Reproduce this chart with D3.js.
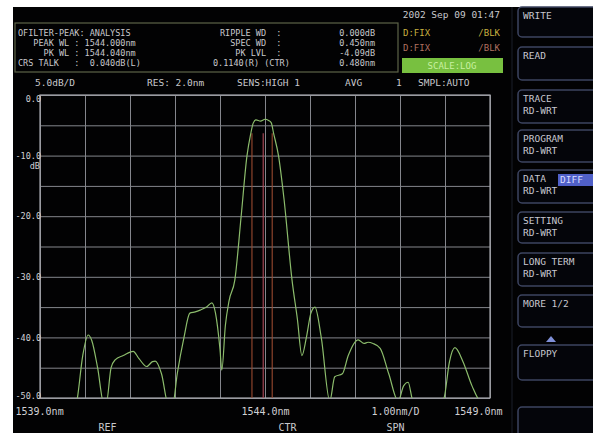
<!DOCTYPE html>
<html><head><meta charset="utf-8">
<script src="https://cdn.jsdelivr.net/npm/d3@7"></script>
<style>
html,body{margin:0;padding:0;background:#fff;}
svg{display:block;}
text{font-family:"DejaVu Sans Mono",monospace;white-space:pre;}
</style></head>
<body>
<svg id="c" width="593" height="433"></svg>
<script>
// ---- data ----
const wavelengths = [1539.70,1539.82,1539.95,1540.07,1540.15,1540.28,1540.42,1540.47,1540.58,1540.67,1540.85,1541.07,1541.20,1541.37,1541.50,1541.56,1541.70,1541.85,1541.95,1542.05,1542.20,1542.33,1542.45,1542.56,1542.70,1542.82,1542.90,1543.00,1543.04,1543.12,1543.20,1543.33,1543.47,1543.60,1543.68,1543.74,1543.80,1543.90,1544.00,1544.08,1544.14,1544.19,1544.30,1544.42,1544.60,1544.72,1544.82,1544.92,1545.02,1545.11,1545.25,1545.44,1545.55,1545.72,1545.85,1546.07,1546.20,1546.29,1546.40,1546.56,1546.75,1546.96,1547.08,1547.18,1547.29,1547.50,1547.90,1547.98,1548.10,1548.22,1548.40,1548.60,1548.78,1549.00];
const levels      = [-53,-50.5,-43,-39.6,-40.5,-45,-51,-51,-45,-43.7,-43,-42.3,-43.5,-44.8,-44,-43.9,-46,-51,-51,-46,-40,-36,-35.8,-35.5,-35,-34.3,-36,-42,-45.4,-38,-34,-30.5,-20,-10,-6.5,-4.6,-4.1,-4.3,-4.0,-4.2,-4.6,-6.3,-10,-17,-30.5,-37,-43,-40,-36,-35,-40,-50.5,-46.5,-46,-43,-40.4,-41,-40.8,-41,-41.8,-46,-50.5,-48,-47.4,-50.5,-51,-51,-50,-44,-41.7,-44,-48,-50.5,-51];
const markerLines = [1543.71, 1543.96, 1544.16];
const yTicks = [0,-10,-20,-30,-40,-50];
const yTickLabels = ["0.0","-10.0","-20.0","-30.0","-40.0","-50.0"];
const xTicks = [1539,1544,1549];
const xTickLabels = ["1539.0nm","1544.0nm","1549.0nm"];
const headerLeft = [
  ["OFILTER-PEAK: ANALYSIS","RIPPLE WD  :","0.000dB"],
  ["   PEAK WL : 1544.000nm","  SPEC WD  :","0.450nm"],
  ["     PK WL : 1544.040nm","   PK LVL  :","-4.09dB"],
  ["CRS TALK   :  0.040dB(L)","0.1140(R) (CTR)","0.480nm"]
];
const buttons = [
  {y0:7,  y1:37,  l1:"WRITE", l2:""},
  {y0:47, y1:80,  l1:"READ",  l2:""},
  {y0:90, y1:123, l1:"TRACE", l2:"RD-WRT"},
  {y0:130,y1:162, l1:"PROGRAM", l2:"RD-WRT"},
  {y0:170,y1:203, l1:"DATA", l2:"RD-WRT"},
  {y0:212,y1:243, l1:"SETTING", l2:"RD-WRT"},
  {y0:253,y1:286, l1:"LONG TERM", l2:"RD-WRT"},
  {y0:295,y1:327, l1:"MORE 1/2", l2:""},
  {y0:345,y1:380, l1:"FLOPPY", l2:""},
  {y0:407,y1:445, l1:"", l2:""}
];

// ---- layout ----
const svg = d3.select("#c");
svg.append("rect").attr("x",13).attr("y",7).attr("width",580).attr("height",426).attr("fill","#020203");

const L=40,R=490,T=95,B=398;
const x = d3.scaleLinear().domain([1539,1549]).range([L,R]);
const y = d3.scaleLinear().domain([-50,0]).range([B,T]);

const gridCol="#84868c";
const gx = svg.append("g").attr("transform",`translate(0,${B})`)
  .call(d3.axisBottom(x).tickValues(d3.range(1539,1550,1)).tickSize(-(B-T)).tickFormat(""));
gx.select(".domain").remove();
gx.selectAll("line").attr("stroke",gridCol).attr("stroke-width",1);
const gy = svg.append("g").attr("transform",`translate(${L},0)`)
  .call(d3.axisLeft(y).tickValues(d3.range(-50,1,5)).tickSize(-(R-L)).tickFormat(""));
gy.select(".domain").remove();
gy.selectAll("line").attr("stroke",gridCol).attr("stroke-width",1);
svg.append("rect").attr("x",L).attr("y",T).attr("width",R-L).attr("height",B-T)
  .attr("fill","none").attr("stroke","#a8aab0").attr("stroke-width",1.2);

// marker lines
svg.append("g").selectAll("line").data(markerLines).join("line")
  .attr("x1",d=>x(d)).attr("x2",d=>x(d)).attr("y1",y(-6.3)).attr("y2",B)
  .attr("stroke",(d,i)=>i===1?"#b04a5a":"#9a4a30").attr("stroke-width",1.1);

// trace
svg.append("clipPath").attr("id","clp").append("rect").attr("x",L).attr("y",T-2).attr("width",R-L).attr("height",B-T+2);
const line = d3.line().x((d,i)=>x(wavelengths[i])).y(d=>y(d)).curve(d3.curveMonotoneX);
svg.append("path").attr("d",line(levels)).attr("clip-path","url(#clp)")
  .attr("fill","none").attr("stroke","#8cbc6c").attr("stroke-width",1.2);

// y labels
const yl = svg.append("g").attr("transform",`translate(${L+1},0)`)
  .call(d3.axisLeft(y).tickValues(yTicks).tickSize(0).tickPadding(0)
    .tickFormat((d,i)=>yTickLabels[i]));
yl.select(".domain").remove();
yl.selectAll("text").attr("fill","#d0d0d4").attr("font-size","8.5px")
  .attr("font-family","DejaVu Sans Mono")
  .attr("dy",(d)=>d===0?"0.75em":(d===-50?"0.1em":"0.32em"));
svg.append("text").attr("x",L).attr("y",y(-10)+13).attr("text-anchor","end")
  .attr("fill","#d0d0d4").attr("font-size","8.5px").text("dB");

// x labels
const xl = svg.append("g").attr("transform",`translate(0,${B})`)
  .call(d3.axisBottom(x).tickValues(xTicks).tickSize(0).tickPadding(10)
    .tickFormat((d,i)=>xTickLabels[i]));
xl.select(".domain").remove();
xl.selectAll("text").attr("fill","#d0d0d4").attr("font-size","10px")
  .attr("font-family","DejaVu Sans Mono")
  .attr("text-anchor",(d,i)=>i===0?"start":(i===2?"end":"middle"))
  .attr("dx",(d,i)=>i===0?"-25px":(i===2?"12px":"0"));
svg.append("text").attr("x",x(1546.9)).attr("y",B+17).attr("text-anchor","middle")
  .attr("fill","#d0d0d4").attr("font-size","10px").text("1.00nm/D");
[["REF",x(1540.5)],["CTR",x(1544.5)],["SPN",x(1546.9)]].forEach(([t,px])=>{
  svg.append("text").attr("x",px).attr("y",B+33).attr("text-anchor","middle")
    .attr("fill","#c8c8cc").attr("font-size","10px").text(t);
});

// header
const hc="#c8c8cc";
svg.append("rect").attr("x",15).attr("y",23).attr("width",383).attr("height",49)
  .attr("fill","none").attr("stroke","#5e6448").attr("stroke-width",1.2);
headerLeft.forEach((row,i)=>{
  const yy=36+i*10;
  svg.append("text").attr("x",18).attr("y",yy).attr("fill",hc).attr("font-size","8.5px").text(row[0]);
  svg.append("text").attr("x",i===3?213:220).attr("y",yy).attr("fill",hc).attr("font-size","8.5px").text(row[1]);
  svg.append("text").attr("x",375).attr("y",yy).attr("text-anchor","end").attr("fill",hc).attr("font-size","8.5px").text(row[2]);
});
svg.append("text").attr("x",500).attr("y",18).attr("text-anchor","end").attr("fill",hc).attr("font-size","9.5px").text("2002 Sep 09 01:47");
svg.append("text").attr("x",403).attr("y",36).attr("fill","#c8b040").attr("font-size","9px").text("D:FIX");
svg.append("text").attr("x",500).attr("y",36).attr("text-anchor","end").attr("fill","#c8b040").attr("font-size","9px").text("/BLK");
svg.append("text").attr("x",403).attr("y",51).attr("fill","#b07060").attr("font-size","9px").text("D:FIX");
svg.append("text").attr("x",500).attr("y",51).attr("text-anchor","end").attr("fill","#b07060").attr("font-size","9px").text("/BLK");
svg.append("rect").attr("x",402).attr("y",58).attr("width",101).attr("height",15).attr("fill","#78c040");
svg.append("text").attr("x",452).attr("y",69).attr("text-anchor","middle").attr("fill","#c8f0a0").attr("font-size","9px").text("SCALE:LOG");

// status row
[["5.0dB/D",35],["RES: 2.0nm",147],["SENS:HIGH 1",237],["AVG",345],["1",396],["SMPL:AUTO",418]].forEach(([t,px])=>{
  svg.append("text").attr("x",px).attr("y",86).attr("fill",hc).attr("font-size","9.5px").text(t);
});

// right panel
svg.append("line").attr("x1",512).attr("x2",512).attr("y1",7).attr("y2",433).attr("stroke","#1a1e2a");
buttons.forEach(b=>{
  svg.append("rect").attr("x",518).attr("y",b.y0).attr("width",90).attr("height",b.y1-b.y0)
    .attr("rx",4).attr("fill","#04050a").attr("stroke","#3c4460").attr("stroke-width",1.5);
  if(b.l1) svg.append("text").attr("x",523).attr("y",b.y0+12).attr("fill","#c8c8d0").attr("font-size","9.5px").text(b.l1);
  if(b.l2) svg.append("text").attr("x",523).attr("y",b.y0+24).attr("fill","#c8c8d0").attr("font-size","9.5px").text(b.l2);
});
svg.append("rect").attr("x",558).attr("y",174).attr("width",35).attr("height",12).attr("fill","#5060c8");
svg.append("text").attr("x",560).attr("y",183).attr("fill","#d8dcff").attr("font-size","9.5px").text("DIFF");
svg.append("path").attr("d","M551,336 L556,342 L546,342 Z").attr("fill","#8090d8");
</script>
</body></html>
